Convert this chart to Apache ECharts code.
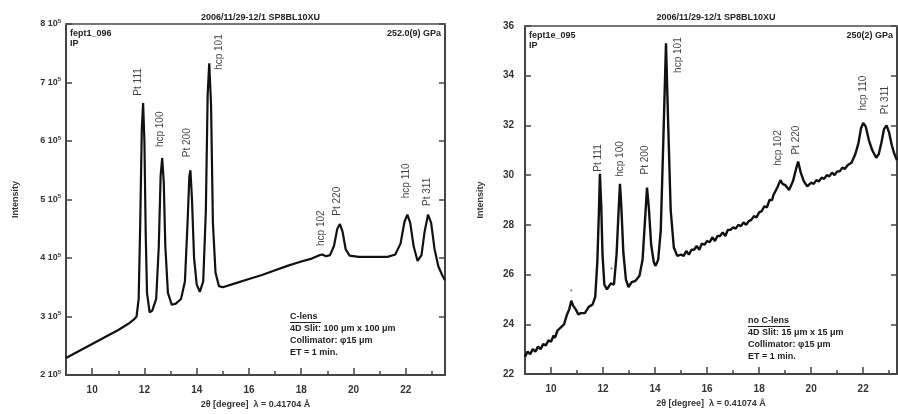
<!DOCTYPE html>
<html><head><meta charset="utf-8">
<script src="https://cdn.jsdelivr.net/npm/echarts@6/dist/echarts.min.js"></script>
<style>html,body{margin:0;padding:0;background:#fff}#c{width:898px;height:414px}</style>
</head><body><div id="c"></div>
<script>
// ---------- data ----------
const titleText = '2006/11/29-12/1 SP8BL10XU';
const xMajor = [10, 12, 14, 16, 18, 20, 22];
const xMinor = [9, 11, 13, 15, 17, 19, 21, 23];
const yTicksL = [2, 3, 4, 5, 6, 7, 8];          // x 10^5
const yTicksR = [22, 24, 26, 28, 30, 32, 34, 36];

// left pattern: 2theta (deg), intensity
const leftX = [9.0,9.5,10.0,10.5,11.0,11.4,11.6,11.7,11.78,11.84,11.9,11.95,12.0,12.05,12.1,12.2,12.3,12.45,12.55,12.62,12.68,12.74,12.8,12.9,13.05,13.2,13.4,13.55,13.65,13.72,13.76,13.82,13.9,14.0,14.12,14.25,14.35,14.42,14.48,14.55,14.62,14.72,14.85,15.0,15.5,16.0,16.5,17.0,17.5,18.0,18.4,18.65,18.8,18.95,19.1,19.25,19.38,19.48,19.58,19.7,19.85,20.2,20.8,21.3,21.6,21.8,21.95,22.06,22.17,22.3,22.45,22.52,22.6,22.72,22.85,22.97,23.1,23.25,23.4,23.5];
const leftY = [229000,241000,253000,265000,277000,288000,295000,300000,330000,460000,620000,665000,600000,440000,340000,307000,310000,330000,420000,540000,571000,530000,420000,340000,320000,322000,330000,360000,460000,540000,550000,500000,400000,355000,342000,360000,480000,680000,733000,660000,460000,375000,352000,350000,357000,364000,371000,379000,387000,394000,399000,404000,406000,403000,405000,420000,450000,458000,445000,415000,404000,402000,402000,402000,406000,425000,462000,474000,460000,420000,395000,393000,405000,445000,474000,460000,415000,385000,370000,362000];

// right pattern: 2theta (deg), intensity
const rightX = [9.0,9.1,9.2,9.3,9.4,9.5,9.6,9.7,9.8,9.9,10.0,10.1,10.15,10.25,10.3,10.4,10.5,10.6,10.7,10.78,10.85,10.95,11.05,11.15,11.3,11.45,11.6,11.7,11.78,11.84,11.88,11.93,11.98,12.05,12.15,12.3,12.42,12.52,12.6,12.65,12.7,12.78,12.88,12.98,13.1,13.25,13.4,13.52,13.62,13.69,13.76,13.85,13.95,14.02,14.12,14.22,14.32,14.42,14.5,14.6,14.72,14.85,15.0,15.1,15.2,15.3,15.4,15.5,15.6,15.7,15.8,15.9,16.0,16.1,16.2,16.3,16.4,16.5,16.6,16.7,16.8,16.9,17.0,17.1,17.2,17.3,17.4,17.5,17.6,17.7,17.8,17.9,18.0,18.1,18.2,18.3,18.4,18.5,18.55,18.7,18.82,18.9,19.0,19.15,19.3,19.42,19.5,19.6,19.72,19.85,20.0,20.1,20.2,20.3,20.4,20.5,20.6,20.7,20.8,20.9,21.0,21.1,21.2,21.3,21.4,21.55,21.7,21.82,21.92,22.0,22.1,22.22,22.35,22.5,22.6,22.7,22.8,22.9,23.0,23.1,23.2,23.3];
const rightY = [22.7,22.9,22.8,23.0,22.9,23.1,23.0,23.2,23.15,23.35,23.3,23.55,23.45,23.75,23.7,23.9,24.0,24.35,24.6,24.95,24.75,24.6,24.4,24.45,24.45,24.7,24.8,25.1,26.5,28.5,30.05,28.8,26.8,25.6,25.4,25.65,25.6,26.8,28.6,29.65,28.8,26.9,25.8,25.5,25.7,25.75,25.95,26.6,28.3,29.5,28.7,27.2,26.5,26.35,26.6,27.8,31.5,35.3,32.2,28.6,27.1,26.75,26.8,26.75,26.95,26.8,27.0,27.0,27.15,27.0,27.25,27.2,27.35,27.3,27.5,27.35,27.55,27.55,27.7,27.55,27.8,27.8,27.9,27.85,28.0,27.95,28.1,28.0,28.15,28.2,28.35,28.3,28.5,28.55,28.75,28.7,29.0,29.0,29.2,29.5,29.8,29.65,29.6,29.4,29.75,30.25,30.55,30.1,29.75,29.55,29.7,29.65,29.8,29.75,29.9,29.85,30.0,29.95,30.1,30.0,30.15,30.15,30.3,30.25,30.4,30.5,30.85,31.3,31.9,32.1,31.95,31.4,31.0,30.7,30.85,31.3,31.85,32.0,31.7,31.2,30.85,30.6];

// peak labels (2theta, intensity at label centre)
const peakNames = ['Pt 111','hcp 100','Pt 200','hcp 101','hcp 102','Pt 220','hcp 110','Pt 311'];
const leftLabX = [11.76,12.6,13.64,14.87,18.78,19.39,22.0,22.84];
const leftLabY = [701000,620000,597000,752000,451000,497000,532000,513000];
const rightLabX = [11.81,12.65,13.62,14.88,18.73,19.42,22.0,22.85];
const rightLabY = [30.69,30.65,30.61,34.83,31.09,31.41,33.3,33.02];

const leftInfo = {file:'fept1_096', det:'IP', p:'252.0(9) GPa', lam:'0.41704',
  notes:['C-lens','4D Slit: 100 \u03bcm x 100 \u03bcm','Collimator: \u03c615 \u03bcm','ET = 1 min.']};
const rightInfo = {file:'fept1e_095', det:'IP', p:'250(2) GPa', lam:'0.41074',
  notes:['no C-lens','4D Slit: 15 \u03bcm x 15 \u03bcm','Collimator: \u03c615 \u03bcm','ET = 1 min.']};

// ---------- chart ----------
const FONT = 'Liberation Sans, Arial, sans-serif';
const TXT = '#333';
const chart = echarts.init(document.getElementById('c'));
const zip = (a,b) => a.map((v,i)=>[v,b[i]]);

const G = [
  {left:66, top:24, width:379, height:351},
  {left:525, top:26, width:372, height:348}
];
const XR = [[9,23.5],[9,23.3]];

function xAxes(gi, lam){
  return [
    {gridIndex:gi, type:'value', min:XR[gi][0], max:XR[gi][1], interval:1, position:'bottom',
     axisLine:{show:true,onZero:false,lineStyle:{color:'#444',width:2}},
     axisTick:{show:true,inside:true,length:7,customValues:xMajor,lineStyle:{color:'#444',width:1.5}},
     axisLabel:{show:true,customValues:xMajor,color:TXT,fontSize:10,fontWeight:'bold',fontFamily:FONT,margin:10},
     splitLine:{show:false},
     name:'2\u03b8 [degree]  \u03bb = '+lam+' \u00c5', nameLocation:'middle', nameGap:24,
     nameTextStyle:{color:TXT,fontSize:9,fontWeight:'bold',fontFamily:FONT}},
    {gridIndex:gi, type:'value', min:XR[gi][0], max:XR[gi][1], interval:1, position:'bottom',
     axisLine:{show:false,onZero:false},
     axisTick:{show:true,inside:true,length:4,customValues:xMinor,lineStyle:{color:'#444',width:1.5}},
     axisLabel:{show:false}, splitLine:{show:false}},
    {gridIndex:gi, type:'value', min:XR[gi][0], max:XR[gi][1], position:'top',
     axisLine:{show:true,onZero:false,lineStyle:{color:'#777',width:2}},
     axisTick:{show:false}, axisLabel:{show:false}, splitLine:{show:false}}
  ];
}
function yAxes(gi){
  const ticks = gi===0 ? yTicksL.map(v=>v*1e5) : yTicksR;
  const common = {gridIndex:gi, type:'value', min:ticks[0], max:ticks[ticks.length-1],
     interval: ticks[1]-ticks[0], splitLine:{show:false}};
  return [
    Object.assign({}, common, {position:'left',
     axisLine:{show:true,onZero:false,lineStyle:{color:'#444',width:2}},
     axisTick:{show:true,inside:true,length:6,lineStyle:{color:'#444',width:1.5}},
     axisLabel:{show:true,color:TXT,fontSize:gi===0?9:10,fontWeight:'bold',fontFamily:FONT,margin:gi===0?5:11,
        formatter: gi===0 ? (v=>(v/1e5)+' 10{s|5}') : (v=>String(v)),
        rich:{s:{fontSize:6,fontWeight:'bold',color:TXT,verticalAlign:'top',padding:[0,0,6,0]}}},
     name:'Intensity', nameLocation:'middle', nameGap: gi===0?46:40, nameRotate:90,
     nameTextStyle:{color:TXT,fontSize:9,fontWeight:'bold',fontFamily:FONT}}),
    Object.assign({}, common, {position:'right',
     axisLine:{show:true,onZero:false,lineStyle:{color:'#444',width:2}},
     axisTick:{show:true,inside:true,length:6,lineStyle:{color:'#444',width:1.5}},
     axisLabel:{show:false}})
  ];
}

function peakSeries(xi, yi, xs, ys){
  return {type:'scatter', xAxisIndex:xi, yAxisIndex:yi, symbolSize:0, silent:true,
    data: peakNames.map((n,i)=>({name:n, value:[xs[i],ys[i]]})),
    label:{show:true, position:'inside', rotate:90, formatter:'{b}', color:'#111',
      fontSize:10, fontFamily:FONT, align:'center', verticalAlign:'middle'}};
}

function infoGraphics(gi, info){
  const g = G[gi];
  const out = [];
  out.push({type:'text', left:g.left+4, top:g.top+5, style:{text:info.file+'\n'+info.det, fill:'#222',
    font:'bold 9px '+FONT, lineHeight:10}});
  out.push({type:'text', right: 898-(g.left+g.width)+4, top:g.top+5, style:{text:info.p, fill:'#222', font:'bold 9px '+FONT}});
  return out;
}

const notePos = [{x:290,y:312},{x:748,y:316}];
function noteGraphics(gi, info){
  const p = notePos[gi];
  const out = [];
  info.notes.forEach((t,i)=>{
    out.push({type:'text', x:p.x, y:p.y+i*12, style:{text:t, fill:'#222', font:'bold 9px '+FONT}});
  });
  out.push({type:'line', shape:{x1:p.x, y1:p.y+10.5, x2:p.x+(gi===0?31:42), y2:p.y+10.5}, style:{stroke:'#222',lineWidth:1}});
  return out;
}

const option = {
  backgroundColor:'#fff',
  animation:false,
  title:[
    {text:titleText, left:G[0].left+G[0].width/2, top:8, textAlign:'center',
     textStyle:{fontSize:9,fontWeight:'bold',color:'#222',fontFamily:FONT}},
    {text:titleText, left:G[1].left+G[1].width/2, top:8, textAlign:'center',
     textStyle:{fontSize:9,fontWeight:'bold',color:'#222',fontFamily:FONT}}
  ],
  grid: G.map(g=>Object.assign({show:true, borderWidth:0, containLabel:false}, g)),
  xAxis: [...xAxes(0, leftInfo.lam), ...xAxes(1, rightInfo.lam)],
  yAxis: [...yAxes(0), ...yAxes(1)],
  series: [
    {type:'line', xAxisIndex:0, yAxisIndex:0, data:zip(leftX,leftY), showSymbol:false, silent:true,
     lineStyle:{color:'#111',width:2.2}},
    {type:'line', xAxisIndex:3, yAxisIndex:2, data:zip(rightX,rightY), showSymbol:false, silent:true,
     lineStyle:{color:'#111',width:2.4}},
    peakSeries(0,0,leftLabX,leftLabY),
    peakSeries(3,2,rightLabX,rightLabY),
    {type:'scatter', xAxisIndex:3, yAxisIndex:2, symbolSize:0, silent:true,
     data:[[10.78,25.3],[12.33,26.2]],
     label:{show:true, position:'inside', formatter:'*', color:'#444', fontSize:8}}
  ],
  graphic: [
    ...infoGraphics(0,leftInfo), ...infoGraphics(1,rightInfo),
    ...noteGraphics(0,leftInfo), ...noteGraphics(1,rightInfo)
  ]
};
chart.setOption(option);
</script></body></html>
